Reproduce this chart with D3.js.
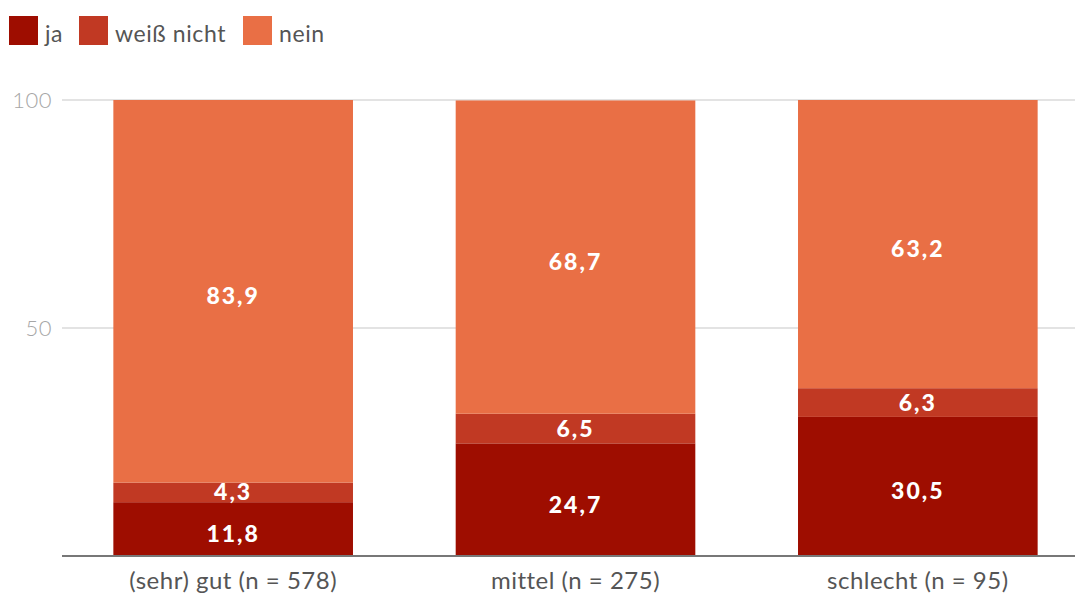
<!DOCTYPE html>
<html><head><meta charset="utf-8">
<script src="https://cdn.jsdelivr.net/npm/d3@7"></script>
<style>body{margin:0;background:#fff;} svg{display:block;}</style>
</head><body>
<svg id="c" width="1075" height="595"></svg>
<script>
const categories = ["(sehr) gut (n = 578)", "mittel (n = 275)", "schlecht (n = 95)"];
const seriesNames = ["ja", "weiß nicht", "nein"];
const ja = [11.8, 24.7, 30.5];
const weissNicht = [4.3, 6.5, 6.3];
const nein = [83.9, 68.7, 63.2];
const yTicks = [50, 100];
const colors = ["#9e0d00", "#c13923", "#e96f45"];

const svg = d3.select("#c");
const W = 1075, H = 595;
const x = d3.scaleBand().domain(categories).range([62, 1089]).paddingInner(0.3).paddingOuter(0.15);
const y = d3.scaleLinear().domain([0, 100]).range([556, 100]);

// grid
svg.append("g").selectAll("line").data(yTicks).join("line")
  .attr("x1", 62).attr("x2", W).attr("y1", d => y(d)).attr("y2", d => y(d))
  .attr("stroke", "#e3e3e3").attr("stroke-width", 2);
svg.append("g").selectAll("text").data(yTicks).join("text")
  .attr("x", 52).attr("y", d => y(d) + 8).attr("text-anchor", "end")
  .attr("font-family", "Lato").attr("font-weight", 300).attr("font-size", 22)
  .attr("letter-spacing", 0.5)
  .attr("fill", "#a6a6a6").text(d => d);

const rows = categories.map((c, i) => ({cat: c, ja: ja[i], wn: weissNicht[i], nein: nein[i]}));
const stack = d3.stack().keys(["ja", "wn", "nein"])(rows);

const g = svg.append("g");
stack.forEach((layer, li) => {
  g.append("g").selectAll("rect").data(layer).join("rect")
    .attr("x", d => x(d.data.cat)).attr("width", x.bandwidth())
    .attr("y", d => y(d[1])).attr("height", d => y(d[0]) - y(d[1]))
    .attr("fill", colors[li]);
});
stack.forEach((layer, li) => {
  g.append("g").selectAll("text").data(layer).join("text")
    .attr("x", d => x(d.data.cat) + x.bandwidth() / 2)
    .attr("y", d => {
      const h = y(d[0]) - y(d[1]);
      const c = (y(d[0]) + y(d[1])) / 2;
      return c + 8 + (h > 40 ? 5 : 0);
    })
    .attr("text-anchor", "middle")
    .attr("font-family", "Lato").attr("font-weight", 900).attr("font-size", 23)
    .attr("letter-spacing", 2)
    .attr("fill", "#fff")
    .text(d => d3.format(".1f")(d[1] - d[0]).replace(".", ","));
});

// axis line
svg.append("line").attr("x1", 62).attr("x2", W).attr("y1", 556).attr("y2", 556)
  .attr("stroke", "#777").attr("stroke-width", 2);

// category labels
svg.append("g").selectAll("text").data(categories).join("text")
  .attr("x", d => x(d) + x.bandwidth() / 2).attr("y", 589)
  .attr("text-anchor", "middle")
  .attr("font-family", "Lato").attr("font-size", 24).attr("letter-spacing", 0.5)
  .attr("fill", "#555")
  .text(d => d);

// legend
const legendX = [9, 79, 243];
const lg = svg.append("g");
seriesNames.forEach((s, i) => {
  lg.append("rect").attr("x", legendX[i]).attr("y", 16).attr("width", 29).attr("height", 29).attr("fill", colors[i]);
  lg.append("text").attr("x", legendX[i] + 36).attr("y", 42)
    .attr("font-family", "Lato").attr("font-size", 23).attr("letter-spacing", 0.6)
    .attr("fill", "#555").text(s);
});
</script>
</body></html>
